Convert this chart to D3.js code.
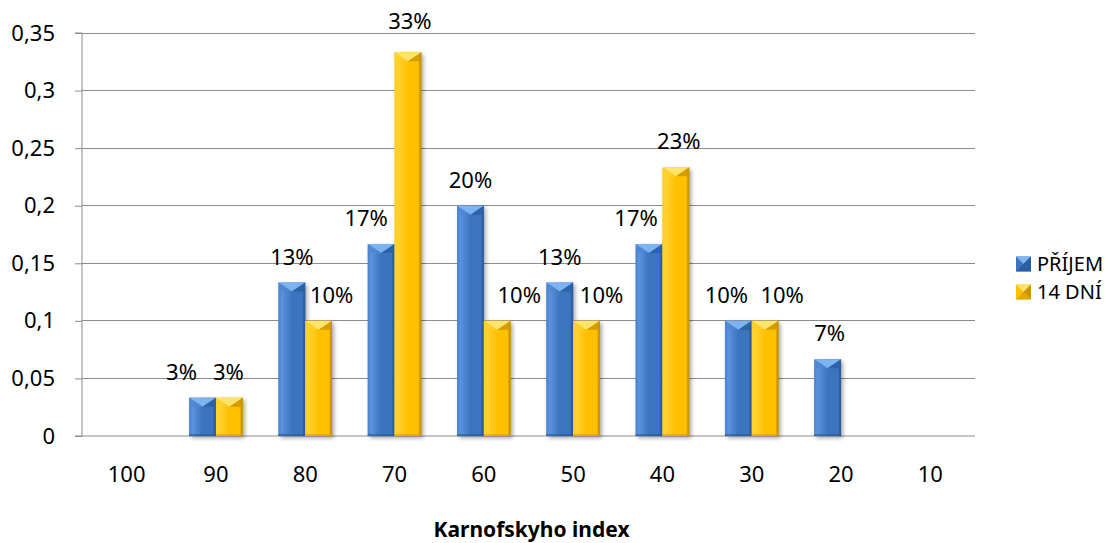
<!DOCTYPE html>
<html>
<head>
<meta charset="utf-8">
<script src="https://cdn.jsdelivr.net/npm/d3@7"></script>
<style>
  html, body { margin: 0; padding: 0; background: #fff; }
  svg { display: block; font-family: "Noto Sans", "Open Sans", sans-serif; }
</style>
</head>
<body>
<svg id="chart" width="1119" height="543"></svg>
<script>
// Karnofsky index distribution: on admission vs. after 14 days
const categories = ["100", "90", "80", "70", "60", "50", "40", "30", "20", "10"];
const seriesNames = ["PŘÍJEM", "14 DNÍ"];
const prijem = [0, 0.0333, 0.1333, 0.1667, 0.2, 0.1333, 0.1667, 0.1, 0.0667, 0];
const dni14  = [0, 0.0333, 0.1, 0.3333, 0.1, 0.1, 0.2333, 0.1, 0, 0];
const yTicks = [0, 0.05, 0.1, 0.15, 0.2, 0.25, 0.3, 0.35];
const xTitle = "Karnofskyho index";

const svg = d3.select("#chart");
const plot = { left: 82, right: 975, top: 33, bottom: 436 };
const FS = 22;

const x = d3.scaleBand().domain(categories).range([plot.left, plot.right]);
const y = d3.scaleLinear().domain([0, 0.35]).range([plot.bottom, plot.top]);
const barW = x.bandwidth() * 0.3;

// palettes for the bevelled bars
const palettes = [
  { id: "blue", main: "#3d74c0", light: "#5b93dc", dark: "#275594", top: "#7cb3f0", edgeL: "#4d86d0", edgeR: "#2b5ea3" },
  { id: "gold", main: "#ffc000", light: "#ffd233", dark: "#d69e00", top: "#ffe36b", edgeL: "#ffd02a", edgeR: "#c99400" }
];

const defs = svg.append("defs");
palettes.forEach(p => {
  const g = defs.append("linearGradient").attr("id", "grad-" + p.id)
    .attr("x1", "0").attr("x2", "1").attr("y1", "0").attr("y2", "0");
  g.append("stop").attr("offset", "0").attr("stop-color", p.edgeL);
  g.append("stop").attr("offset", "0.12").attr("stop-color", p.light);
  g.append("stop").attr("offset", "0.5").attr("stop-color", p.main);
  g.append("stop").attr("offset", "0.88").attr("stop-color", p.main);
  g.append("stop").attr("offset", "1").attr("stop-color", p.edgeR);
});
const shadow = defs.append("filter").attr("id", "shadow")
  .attr("x", "-30%").attr("y", "-10%").attr("width", "160%").attr("height", "130%");
shadow.append("feGaussianBlur").attr("stdDeviation", 2);

// gridlines
svg.append("g").selectAll("line").data(yTicks.filter(t => t > 0)).join("line")
  .attr("x1", plot.left).attr("x2", plot.right)
  .attr("y1", d => y(d)).attr("y2", d => y(d))
  .attr("stroke", "#8c8c8c").attr("stroke-width", 1).attr("shape-rendering", "crispEdges");

// y axis
const yAxis = d3.axisLeft(y).tickValues(yTicks).tickSize(7).tickPadding(20)
  .tickFormat(d => d3.format("")(+d.toFixed(2)).replace(".", ","));
const yg = svg.append("g").attr("transform", `translate(${plot.left},0)`).call(yAxis);
yg.select(".domain").attr("stroke", "#8c8c8c").attr("d", `M-7,${plot.top}H0V${plot.bottom}`);
yg.selectAll(".tick line").attr("stroke", "#8c8c8c");
yg.selectAll("text").attr("font-size", FS).attr("fill", "#000")
  .attr("font-family", "Noto Sans, sans-serif").attr("x", -27);

// x axis
const xAxis = d3.axisBottom(x).tickSize(0).tickPadding(30);
const xg = svg.append("g").attr("transform", `translate(0,${plot.bottom})`).call(xAxis);
xg.select(".domain").attr("stroke", "#8c8c8c").attr("d", `M${plot.left - 7},0H${plot.right}`);
xg.selectAll("text").attr("font-size", FS).attr("fill", "#000")
  .attr("font-family", "Noto Sans, sans-serif");

// bars
function drawBar(g, x0, v, p) {
  const top = y(v), h = plot.bottom - top;
  const bev = Math.min(9, h / 2);
  g.append("rect").attr("x", x0 + 2).attr("y", top + 2).attr("width", barW).attr("height", h)
    .attr("fill", "#000").attr("opacity", 0.35).attr("filter", "url(#shadow)");
  g.append("rect").attr("x", x0).attr("y", top).attr("width", barW).attr("height", h)
    .attr("fill", `url(#grad-${p.id})`);
  // top bevel
  g.append("path")
    .attr("d", `M${x0},${top}L${x0 + barW},${top}L${x0 + barW / 2},${top + bev}Z`)
    .attr("fill", p.top);
  g.append("path")
    .attr("d", `M${x0},${top}L${x0 + barW / 2},${top + bev}L${x0 + 2},${top + bev}L${x0 + 2},${plot.bottom}L${x0},${plot.bottom}Z`)
    .attr("fill", p.edgeL).attr("opacity", 0.7);
  g.append("path")
    .attr("d", `M${x0 + barW},${top}L${x0 + barW / 2},${top + bev}L${x0 + barW - 2},${top + bev}L${x0 + barW - 2},${plot.bottom}L${x0 + barW},${plot.bottom}Z`)
    .attr("fill", p.edgeR).attr("opacity", 0.8);
  // bottom edge
  g.append("rect").attr("x", x0).attr("y", plot.bottom - 2).attr("width", barW).attr("height", 2)
    .attr("fill", p.dark).attr("opacity", 0.6);
}

const series = [prijem, dni14];
const barsG = svg.append("g");
series.forEach((vals, si) => {
  vals.forEach((v, i) => {
    if (!v) return;
    const x0 = x(categories[i]) + x.bandwidth() / 2 - barW + si * barW;
    drawBar(barsG.append("g"), x0, v, palettes[si]);
  });
});

// value labels, nudged sideways where neighbours would collide
const nudge = {
  "0|90": [-21, 0], "1|90": [-1, 0],
  "1|80": [13, 0],
  "0|70": [-15, 0], "1|70": [2, -5],
  "1|60": [22, 0],
  "1|50": [15, 0],
  "0|40": [-13, 0], "1|40": [3, 0],
  "0|30": [-12, 0], "1|30": [17, 0],
  "0|20": [2, 0]
};
const pct = d3.format(".0%");
const labelsG = svg.append("g");
series.forEach((vals, si) => {
  vals.forEach((v, i) => {
    if (!v) return;
    const cx = x(categories[i]) + x.bandwidth() / 2 - barW / 2 + si * barW;
    const n = nudge[si + "|" + categories[i]] || [0, 0];
    labelsG.append("text")
      .attr("x", cx + n[0]).attr("y", y(v) - 18 + n[1])
      .attr("text-anchor", "middle").attr("font-size", FS).attr("fill", "#000")
      .text(pct(v));
  });
});

// x axis title
svg.append("text").attr("x", (plot.left + plot.right) / 2 + 3).attr("y", 537)
  .attr("text-anchor", "middle").attr("font-size", 21).attr("font-weight", "bold")
  .text(xTitle);

// legend
const legend = svg.append("g");
seriesNames.forEach((name, si) => {
  const p = palettes[si];
  const cy = 264 + si * 28, mx = 1016, s = 15;
  const lg = legend.append("g");
  lg.append("rect").attr("x", mx).attr("y", cy - s / 2).attr("width", s).attr("height", s).attr("fill", p.main);
  lg.append("path").attr("d", `M${mx},${cy - s / 2}L${mx + s},${cy - s / 2}L${mx + s / 2},${cy}Z`).attr("fill", p.top);
  lg.append("path").attr("d", `M${mx},${cy + s / 2}L${mx + s},${cy + s / 2}L${mx + s / 2},${cy}Z`).attr("fill", p.dark).attr("opacity", 0.7);
  lg.append("path").attr("d", `M${mx + s},${cy - s / 2}L${mx + s},${cy + s / 2}L${mx + s / 2},${cy}Z`).attr("fill", p.edgeR);
  lg.append("text").attr("x", 1037).attr("y", cy).attr("dy", "0.35em")
    .attr("font-size", 20).attr("fill", "#000").text(name);
});
</script>
</body>
</html>
